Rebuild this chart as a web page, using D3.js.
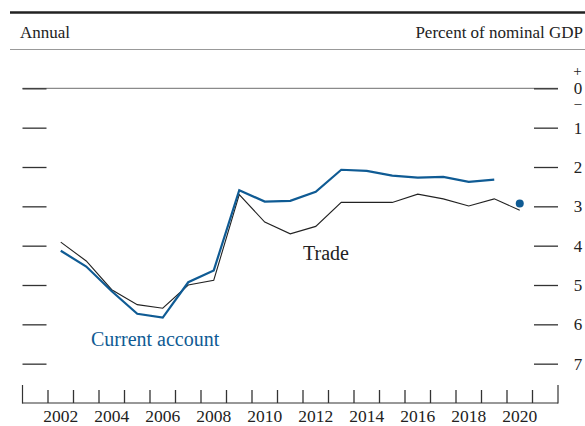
<!DOCTYPE html>
<html>
  <head>
    <script src="https://cdn.jsdelivr.net/npm/d3@7"></script>
    <style>
      body { margin: 0; background: #fff; }
      text { font-family: "Liberation Serif", "Times New Roman", serif; fill: #222; }
    </style>
  </head>
  <body>
    <div id="chart"></div>
    <script type="text/javascript">
      var width = 585,
          height = 426;

      // percent of nominal GDP, deficits negative
      var years = [2002, 2003, 2004, 2005, 2006, 2007, 2008, 2009, 2010, 2011, 2012, 2013, 2014, 2015, 2016, 2017, 2018, 2019, 2020];
      var currentAccount = [-4.13, -4.53, -5.16, -5.73, -5.83, -4.93, -4.63, -2.59, -2.88, -2.86, -2.63, -2.07, -2.10, -2.22, -2.27, -2.25, -2.38, -2.32];
      var caLatest = { year: 2020, value: -2.93 };
      var trade = [-3.91, -4.39, -5.12, -5.50, -5.59, -5.00, -4.88, -2.70, -3.40, -3.70, -3.51, -2.90, -2.90, -2.90, -2.69, -2.81, -2.99, -2.81, -3.10];
      var yTicks = [0, -1, -2, -3, -4, -5, -6, -7];
      var yearLabels = [2002, 2004, 2006, 2008, 2010, 2012, 2014, 2016, 2018, 2020];

      var blue = "#0f5b94";

      var svg = d3.select("#chart").append("svg")
          .attr("width", width)
          .attr("height", height);

      var x = d3.scaleLinear().domain([2001, 2022]).range([22.5, 558]);
      var y = d3.scaleLinear().domain([1, -8]).range([49, 403]);

      // header
      svg.append("line").attr("x1", 10).attr("x2", width).attr("y1", 12.5).attr("y2", 12.5)
          .style("stroke", "#222").style("stroke-width", 2.5);
      svg.append("line").attr("x1", 10).attr("x2", width).attr("y1", 49.5).attr("y2", 49.5)
          .style("stroke", "#999").style("stroke-width", 1);
      svg.append("text").text("Annual").attr("x", 20).attr("y", 38).style("font-size", "17px");
      svg.append("text").text("Percent of nominal GDP").attr("x", 583).attr("y", 38)
          .style("font-size", "17px").style("text-anchor", "end");

      // zero line
      svg.append("line").attr("x1", x(2001)).attr("x2", x(2022)).attr("y1", y(0)).attr("y2", y(0))
          .style("stroke", "#8a8a8a").style("stroke-width", 1.2);

      // left and right ticks
      var leftAxis = d3.axisLeft(y).tickValues(yTicks).tickSize(-24).tickFormat("");
      svg.append("g").attr("transform", "translate(" + x(2001) + ",0)").call(leftAxis)
          .call(function(g) { g.select(".domain").remove(); })
          .selectAll("line").style("stroke", "#333").style("stroke-width", 1.3);

      var rightAxis = d3.axisRight(y).tickValues(yTicks).tickSize(-24)
          .tickFormat(function(d) { return Math.abs(d); });
      var ra = svg.append("g").attr("transform", "translate(" + x(2022) + ",0)").call(rightAxis);
      ra.select(".domain").remove();
      ra.selectAll("line").style("stroke", "#333").style("stroke-width", 1.3);
      ra.selectAll("text").attr("x", 20).style("text-anchor", "middle")
          .style("font-size", "17px").style("font-family", "Liberation Serif, serif").style("fill", "#222");

      // sign marks around zero
      svg.append("text").text("+").attr("x", x(2022) + 19.5).attr("y", y(0) - 18)
          .attr("dy", "0.35em").style("text-anchor", "middle").style("font-size", "15px");
      svg.append("text").text("\u2013").attr("x", x(2022) + 20).attr("y", y(0) + 15)
          .attr("dy", "0.35em").style("text-anchor", "middle").style("font-size", "14px");

      // bottom axis
      var bottom = svg.append("g").attr("transform", "translate(0," + y(-8) + ")");
      bottom.append("line").attr("x1", x(2001)).attr("x2", x(2022))
          .style("stroke", "#333").style("stroke-width", 1.2);
      bottom.selectAll(".yt").data(d3.range(2002, 2022)).enter().append("line")
          .attr("x1", function(d) { return x(d); }).attr("x2", function(d) { return x(d); })
          .attr("y1", 0).attr("y2", -13)
          .style("stroke", "#333").style("stroke-width", 1.3);
      bottom.selectAll(".edge").data([2001, 2022]).enter().append("line")
          .attr("x1", function(d) { return x(d); }).attr("x2", function(d) { return x(d); })
          .attr("y1", 0.6).attr("y2", -18)
          .style("stroke", "#333").style("stroke-width", 1.2);
      bottom.selectAll(".yl").data(yearLabels).enter().append("text")
          .text(function(d) { return d; })
          .attr("x", function(d) { return x(d + 0.5); })
          .attr("y", 19)
          .style("text-anchor", "middle").style("font-size", "17.5px");

      // series
      var line = d3.line()
          .x(function(d, i) { return x(years[i] + 0.5); })
          .y(function(d) { return y(d); });

      svg.append("path").datum(trade).attr("d", line)
          .style("fill", "none").style("stroke", "#222").style("stroke-width", 1.1);
      svg.append("path").datum(currentAccount).attr("d", line)
          .style("fill", "none").style("stroke", blue).style("stroke-width", 2.2);
      svg.append("circle").attr("cx", x(caLatest.year + 0.5)).attr("cy", y(caLatest.value))
          .attr("r", 4).style("fill", blue);

      svg.append("text").text("Trade").attr("x", 303).attr("y", 260).style("font-size", "20px");
      svg.append("text").text("Current account").attr("x", 91).attr("y", 346)
          .style("font-size", "20px").style("fill", blue);
    </script>
  </body>
</html>
